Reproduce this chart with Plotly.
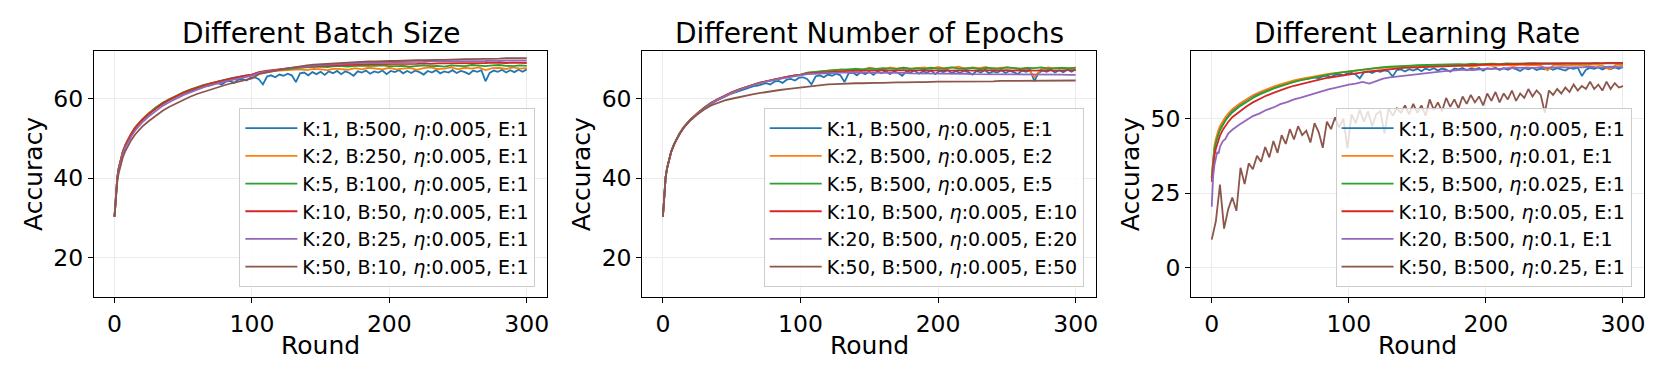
import plotly.graph_objects as go

# ---------------- data ----------------
ROUNDS = [0, 1, 2, 3, 4, 5, 6, 8, 10, 12, 15] + list(range(20, 301, 5))
ROUNDS_K1 = [0, 1, 2] + list(range(3, 301, 3))
ROUNDS_LR_K50 = list(range(0, 301, 3))

# K:1, B:500, eta:0.005, E:1 (same run appears in all three panels)
K1_BASE = [30.3, 36.6, 40.2,
           42.4, 46.6, 49.2, 51.1, 52.7, 54.0, 55.0, 55.9, 56.8, 57.6,
           58.3, 59.0, 59.5, 60.0, 60.6, 61.0, 61.4, 61.8, 62.2, 62.6,
           62.9, 63.2, 63.3, 63.7, 63.9, 63.6, 64.3, 64.5, 64.0, 64.8,
           65.0, 64.6, 65.3, 65.4, 64.9, 63.6, 65.6, 65.9, 65.4, 66.1,
           65.8, 66.3, 65.9, 64.2, 66.4, 66.6, 65.9, 66.7, 66.2, 66.8,
           66.0, 66.9, 66.4, 67.0, 66.2, 66.9, 66.5, 65.8, 66.9, 66.6,
           67.1, 66.3, 66.9, 66.6, 67.1, 66.2, 67.0, 66.7, 67.2, 66.4,
           67.0, 66.5, 67.1, 66.7, 66.1, 67.0, 66.6, 67.2, 66.4, 66.9,
           66.6, 67.2, 66.5, 67.0, 66.7, 66.2, 67.1, 66.8, 67.2, 64.4,
           66.5, 67.1, 66.8, 67.3, 66.6, 67.2, 66.7, 67.3, 66.8, 67.4]

# Panel 1: different batch size
BS_K2 = [30.3, 36.8, 40.3, 42.5, 44.2, 45.6, 46.7, 48.5, 50.0, 51.2, 52.8,
         54.8, 56.4, 57.7, 58.9, 59.9, 60.7, 61.5, 62.2, 62.8, 63.3, 63.8, 64.2, 64.6, 65.0, 65.3, 65.6, 65.9,
         66.4, 66.7, 66.9, 67.1, 67.2, 67.3, 67.4, 67.2, 67.5, 67.4, 67.2, 67.6, 67.5, 67.3, 67.7, 67.4, 67.8, 67.6, 67.4, 67.8,
         67.4, 67.6, 67.8, 67.3, 67.7, 67.9, 67.5, 67.6, 67.9, 67.4, 67.8, 67.6, 67.9, 67.2, 67.7, 67.8, 67.5, 67.9, 67.6, 67.7]
BS_K5 = [30.3, 36.6, 40.1, 42.4, 44.1, 45.5, 46.6, 48.4, 49.9, 51.1, 52.7,
         54.7, 56.3, 57.8, 59.0, 59.9, 60.8, 61.6, 62.3, 62.9, 63.5, 63.9, 64.4, 64.8, 65.2, 65.5, 65.8, 66.1,
         66.6, 66.9, 67.1, 67.3, 67.5, 67.7, 67.8, 67.9, 68.0, 68.1, 68.0, 68.2, 68.2, 68.1, 68.3, 68.3, 68.2, 68.3, 68.4, 68.2,
         68.2, 68.3, 68.1, 68.2, 68.4, 68.2, 68.3, 68.1, 68.4, 68.3, 68.2, 68.5, 68.3, 68.2, 68.4, 68.5, 68.3, 68.2, 68.4, 68.3]
BS_K10 = [30.3, 36.5, 40.0, 42.3, 44.0, 45.4, 46.5, 48.3, 49.8, 51.0, 52.6,
          54.6, 56.2, 57.6, 58.8, 59.8, 60.7, 61.5, 62.2, 62.8, 63.4, 63.9, 64.3, 64.7, 65.1, 65.5, 65.8, 66.1,
          66.7, 67.0, 67.2, 67.5, 67.7, 67.9, 68.0, 68.1, 68.2, 68.3, 68.3, 68.4, 68.5, 68.5, 68.6, 68.6, 68.7, 68.7, 68.7, 68.8,
          68.7, 68.8, 68.7, 68.8, 68.9, 68.8, 68.9, 68.9, 69.0, 68.9, 69.0, 69.0, 68.9, 69.0, 69.1, 69.0, 69.0, 69.1, 69.0, 69.0]
BS_K20 = [30.3, 36.2, 39.6, 41.8, 43.5, 44.9, 46.0, 47.8, 49.2, 50.4, 52.0,
          54.0, 55.6, 57.0, 58.2, 59.2, 60.1, 60.9, 61.6, 62.3, 62.9, 63.4, 63.9, 64.3, 64.7, 65.1, 65.5, 65.8,
          66.5, 66.8, 67.1, 67.4, 67.6, 67.8, 68.0, 68.2, 68.3, 68.5, 68.6, 68.7, 68.8, 68.9, 69.0, 69.0, 69.1, 69.1, 69.2, 69.2,
          69.2, 69.2, 69.3, 69.3, 69.3, 69.4, 69.4, 69.4, 69.4, 69.5, 69.5, 69.5, 69.5, 69.5, 69.6, 69.5, 69.6, 69.6, 69.6, 69.6]
BS_K50 = [30.3, 35.8, 39.0, 41.2, 42.8, 44.1, 45.2, 46.9, 48.3, 49.5, 51.0,
          52.9, 54.4, 55.8, 57.0, 58.0, 58.9, 59.7, 60.5, 61.2, 61.8, 62.4, 62.9, 63.4, 63.9, 64.3, 64.7, 65.1,
          66.2, 66.6, 66.9, 67.3, 67.6, 67.9, 68.2, 68.4, 68.6, 68.7, 68.9, 69.0, 69.1, 69.2, 69.3, 69.3, 69.4, 69.4, 69.5, 69.5,
          69.5, 69.6, 69.6, 69.7, 69.7, 69.8, 69.8, 69.8, 69.9, 69.9, 70.0, 70.0, 70.0, 70.1, 70.1, 70.1, 70.2, 70.2, 70.2, 70.2]

# Panel 2: different number of epochs
EP_E2 = [30.3, 36.6, 40.2, 42.5, 44.2, 45.5, 46.7, 48.5, 50.0, 51.2, 52.8,
         54.7, 56.3, 57.7, 58.9, 59.9, 60.7, 61.5, 62.2, 62.9, 63.4, 63.9, 64.4, 64.8, 65.1, 65.5, 65.8, 66.0,
         66.5, 66.7, 66.9, 67.0, 67.2, 67.4, 67.1, 67.6, 67.3, 67.8, 67.5, 67.3, 67.9, 67.6, 67.8, 67.4, 67.7, 67.9, 67.5, 68.0,
         67.6, 67.8, 68.1, 67.5, 67.9, 67.7, 68.0, 67.3, 67.8, 67.9, 67.6, 67.4, 67.8, 65.4, 67.5, 67.9, 67.6, 67.8, 67.5, 67.9]
EP_E5 = [30.3, 36.7, 40.3, 42.5, 44.2, 45.6, 46.7, 48.5, 50.0, 51.2, 52.8,
         54.8, 56.3, 57.8, 59.0, 59.9, 60.8, 61.6, 62.3, 62.9, 63.5, 64.0, 64.4, 64.8, 65.2, 65.5, 65.8, 66.1,
         66.6, 66.8, 67.0, 67.1, 67.2, 67.3, 67.4, 67.5, 67.4, 67.6, 67.5, 67.7, 67.6, 67.5, 67.8, 67.6, 67.7, 67.5, 67.8, 67.6,
         67.7, 67.9, 67.6, 67.7, 67.8, 67.5, 67.8, 67.7, 67.6, 67.9, 67.7, 67.6, 67.8, 67.7, 67.9, 67.6, 67.7, 67.8, 67.7, 67.8]
EP_E10 = [30.3, 36.6, 40.2, 42.4, 44.1, 45.5, 46.6, 48.4, 49.9, 51.1, 52.7,
          54.7, 56.3, 57.7, 58.9, 59.9, 60.8, 61.6, 62.3, 62.9, 63.5, 64.0, 64.4, 64.8, 65.2, 65.5, 65.8, 66.0,
          66.4, 66.5, 66.7, 66.8, 66.9, 66.9, 67.0, 67.0, 67.1, 67.1, 67.1, 67.2, 67.1, 67.2, 67.2, 67.1, 67.2, 67.2, 67.1, 67.2,
          67.2, 67.1, 67.2, 67.2, 67.1, 67.2, 67.2, 67.1, 67.2, 67.2, 67.1, 67.2, 67.2, 67.1, 67.2, 67.2, 67.1, 67.2, 67.2, 67.2]
EP_E20 = [30.3, 36.6, 40.2, 42.4, 44.1, 45.5, 46.6, 48.4, 49.9, 51.1, 52.7,
          54.7, 56.2, 57.6, 58.8, 59.8, 60.7, 61.5, 62.2, 62.8, 63.4, 63.9, 64.3, 64.7, 65.0, 65.3, 65.6, 65.8,
          66.2, 66.3, 66.4, 66.5, 66.5, 66.6, 66.6, 66.6, 66.6, 66.6, 66.6, 66.5, 66.5, 66.5, 66.5, 66.4, 66.4, 66.4, 66.4, 66.3,
          66.3, 66.3, 66.3, 66.3, 66.2, 66.2, 66.2, 66.2, 66.2, 66.2, 66.1, 66.1, 66.1, 66.1, 66.1, 66.1, 66.1, 66.1, 66.0, 66.0]
EP_E50 = [30.3, 36.6, 40.2, 42.4, 44.1, 45.5, 46.6, 48.4, 49.9, 51.1, 52.6,
          54.6, 56.0, 57.3, 58.3, 59.0, 59.6, 60.0, 60.4, 60.8, 61.1, 61.4, 61.7, 62.0, 62.2, 62.4, 62.6, 62.8,
          63.1, 63.3, 63.4, 63.6, 63.7, 63.8, 63.8, 63.9, 63.9, 64.0, 64.0, 64.0, 64.1, 64.1, 64.1, 64.2, 64.2, 64.2, 64.3, 64.3,
          64.3, 64.3, 64.3, 64.4, 64.4, 64.4, 64.4, 64.4, 64.5, 64.5, 64.5, 64.5, 64.5, 64.6, 64.6, 64.6, 64.6, 64.6, 64.6, 64.6]

# Panel 3: different learning rate
LR_K2 = [30.5, 37.5, 41.0, 43.2, 45.0, 46.4, 47.5, 49.2, 50.6, 51.7, 53.2,
         55.0, 56.5, 57.9, 59.0, 60.0, 60.8, 61.6, 62.3, 62.9, 63.4, 63.9, 64.3, 64.7, 65.1, 65.4, 65.7, 66.0,
         66.3, 66.5, 66.8, 67.0, 67.1, 67.3, 67.4, 67.5, 67.6, 67.4, 67.8, 67.7, 67.9, 67.6, 68.0, 67.8, 67.9, 67.5, 68.0, 68.1,
         67.8, 68.0, 68.1, 67.7, 68.2, 68.0, 68.1, 67.9, 66.3, 68.2, 68.1, 67.9, 68.2, 68.0, 68.1, 68.3, 67.9, 66.6, 68.2, 68.0]
LR_K5 = [30.0, 36.0, 39.6, 41.8, 43.6, 45.0, 46.1, 47.9, 49.4, 50.6, 52.1,
         54.0, 55.6, 57.0, 58.2, 59.2, 60.1, 60.9, 61.7, 62.4, 63.0, 63.5, 64.0, 64.5, 64.9, 65.3, 65.6, 65.9,
         66.3, 66.6, 66.9, 67.1, 67.4, 67.5, 67.7, 67.8, 67.9, 68.0, 68.1, 68.1, 68.2, 68.3, 68.3, 68.4, 68.3, 68.5, 68.4, 68.5,
         68.5, 68.4, 68.6, 68.5, 68.6, 68.5, 68.7, 68.6, 68.6, 68.7, 68.5, 68.7, 68.6, 68.7, 68.6, 68.8, 68.6, 68.7, 68.7, 68.6]
LR_K10 = [28.8, 34.0, 37.6, 39.9, 41.7, 43.1, 44.3, 46.2, 47.7, 48.9, 50.5,
          52.4, 54.0, 55.5, 56.7, 57.8, 58.7, 59.6, 60.4, 61.1, 61.7, 62.3, 62.8, 63.3, 63.8, 64.2, 64.6, 64.9,
          65.3, 65.6, 65.9, 66.2, 66.4, 66.7, 66.9, 67.1, 67.2, 67.4, 67.5, 67.6, 67.7, 67.8, 67.9, 68.0, 68.0, 68.1, 68.2, 68.2,
          68.3, 68.3, 68.4, 68.4, 68.4, 68.5, 68.5, 68.5, 68.6, 68.6, 68.6, 68.6, 68.7, 68.7, 68.7, 68.7, 68.7, 68.8, 68.8, 68.8]
LR_K20 = [20.4, 30.5, 34.5, 37.0, 38.8, 38.3, 40.5, 42.4, 43.2, 45.0, 46.3,
          48.0, 49.4, 50.9, 51.8, 53.0, 53.8, 54.9, 55.6, 56.5, 57.1, 57.8, 58.6, 59.2, 59.9, 60.4, 61.0, 61.5,
          61.8, 62.4, 61.8, 62.7, 63.5, 63.9, 64.2, 64.4, 64.8, 65.1, 65.3, 65.6, 65.8, 66.0, 66.2, 66.3, 66.5, 66.4, 66.7, 66.8,
          66.9, 66.8, 67.0, 67.1, 67.0, 67.2, 67.1, 67.3, 67.2, 67.3, 67.4, 67.2, 67.4, 67.3, 67.5, 67.4, 67.3, 67.5, 67.4, 67.4]
LR_K50 = [9.3, 15.5, 27.8, 13.0, 19.5, 23.5, 19.0, 33.5, 28.0, 35.0,
          33.0, 37.5, 35.5, 40.5, 37.0, 42.5, 38.5, 44.5, 41.5, 46.5,
          43.0, 47.5, 44.5, 46.0, 42.0, 48.5, 45.5, 40.2, 49.0, 46.5,
          50.5, 47.0, 50.0, 40.0, 51.5, 48.5, 53.0, 49.0, 52.5, 47.5,
          51.5, 52.5, 45.0, 53.5, 51.0, 53.5, 52.0, 54.5, 51.5, 55.0,
          52.0, 54.5, 51.0, 56.5, 53.0, 55.5, 52.5, 57.0, 54.0, 56.5,
          53.5, 57.5, 55.0, 58.0, 55.5, 57.5, 54.5, 58.5, 56.0, 59.0,
          55.5, 58.5, 56.5, 59.5, 56.0, 58.5, 57.0, 60.0, 57.5, 59.5,
          58.0, 52.0, 59.5, 58.0, 60.0, 58.5, 60.5, 59.0, 61.5, 59.5,
          61.0, 60.0, 62.5, 60.0, 61.5, 59.5, 62.5, 60.0, 62.0, 60.5,
          61.0]

COLORS = ["#1f77b4", "#ff7f0e", "#2ca02c", "#d62728", "#9467bd", "#8c564b"]
ETA = "<i>η</i>"

PANELS = [
    {
        "title": "Different Batch Size",
        "series": [
            ("K:1, B:500, %s:0.005, E:1" % ETA, ROUNDS_K1, K1_BASE),
            ("K:2, B:250, %s:0.005, E:1" % ETA, ROUNDS, BS_K2),
            ("K:5, B:100, %s:0.005, E:1" % ETA, ROUNDS, BS_K5),
            ("K:10, B:50, %s:0.005, E:1" % ETA, ROUNDS, BS_K10),
            ("K:20, B:25, %s:0.005, E:1" % ETA, ROUNDS, BS_K20),
            ("K:50, B:10, %s:0.005, E:1" % ETA, ROUNDS, BS_K50),
        ],
        "yrange": [10.0, 72.1], "yticks": [20, 40, 60],
    },
    {
        "title": "Different Number of Epochs",
        "series": [
            ("K:1, B:500, %s:0.005, E:1" % ETA, ROUNDS_K1, K1_BASE),
            ("K:2, B:500, %s:0.005, E:2" % ETA, ROUNDS, EP_E2),
            ("K:5, B:500, %s:0.005, E:5" % ETA, ROUNDS, EP_E5),
            ("K:10, B:500, %s:0.005, E:10" % ETA, ROUNDS, EP_E10),
            ("K:20, B:500, %s:0.005, E:20" % ETA, ROUNDS, EP_E20),
            ("K:50, B:500, %s:0.005, E:50" % ETA, ROUNDS, EP_E50),
        ],
        "yrange": [10.0, 72.1], "yticks": [20, 40, 60],
    },
    {
        "title": "Different Learning Rate",
        "series": [
            ("K:1, B:500, %s:0.005, E:1" % ETA, ROUNDS_K1, K1_BASE),
            ("K:2, B:500, %s:0.01, E:1" % ETA, ROUNDS, LR_K2),
            ("K:5, B:500, %s:0.025, E:1" % ETA, ROUNDS, LR_K5),
            ("K:10, B:500, %s:0.05, E:1" % ETA, ROUNDS, LR_K10),
            ("K:20, B:500, %s:0.1, E:1" % ETA, ROUNDS, LR_K20),
            ("K:50, B:500, %s:0.25, E:1" % ETA, ROUNDS_LR_K50, LR_K50),
        ],
        "yrange": [-10.1, 72.9], "yticks": [0, 25, 50],
    },
]

# ---------------- layout geometry (pixels) ----------------
W, H = 1661, 369
BOX_X = [(86.0, 540.0), (635.0, 1089.6), (1184.6, 1637.5)]
BOX_TOP, BOX_BOTTOM = 42.7, 289.3
LEGEND_RIGHT = [528.0, 1077.0, 1625.5]
LEGEND_BOTTOM = 279.3
FONT = "DejaVu Sans"

fig = go.Figure()
annotations = []
layout_axes = {}

for i, panel in enumerate(PANELS):
    n = i + 1
    xa = "x" if n == 1 else "x%d" % n
    ya = "y" if n == 1 else "y%d" % n
    leg = "legend" if n == 1 else "legend%d" % n
    for j, (name, xs, ys) in enumerate(panel["series"]):
        if len(xs) != len(ys):
            raise ValueError("length mismatch in %s / %s: %d vs %d" % (panel["title"], name, len(xs), len(ys)))
        fig.add_trace(go.Scatter(
            x=xs, y=ys, mode="lines", name=name,
            line=dict(color=COLORS[j], width=1.8),
            xaxis=xa, yaxis=ya, legend=leg, showlegend=True,
        ))

    x0, x1 = BOX_X[i]
    axis_common = dict(
        showline=True, mirror=True, linecolor="black", linewidth=1,
        ticks="outside", ticklen=5, tickwidth=1, tickcolor="black",
        showgrid=True, gridcolor="#ebebeb", gridwidth=1, zeroline=False,
        tickfont=dict(family=FONT, size=23.5, color="black"),
    )
    layout_axes["xaxis" if n == 1 else "xaxis%d" % n] = dict(
        axis_common, domain=[x0 / W, x1 / W], anchor=ya,
        range=[-15, 315], tickvals=[0, 100, 200, 300],
    )
    layout_axes["yaxis" if n == 1 else "yaxis%d" % n] = dict(
        axis_common, domain=[1 - BOX_BOTTOM / H, 1 - BOX_TOP / H], anchor=xa,
        range=panel["yrange"], tickvals=panel["yticks"],
    )
    layout_axes[leg] = dict(
        x=LEGEND_RIGHT[i] / W, y=1 - LEGEND_BOTTOM / H, xanchor="right", yanchor="bottom",
        xref="paper", yref="paper",
        bgcolor="rgba(255,255,255,0.8)", bordercolor="#cccccc", borderwidth=1,
        font=dict(family=FONT, size=19, color="black"),
        tracegroupgap=0, itemwidth=52,
    )
    cx = (x0 + x1) / 2
    annotations.append(dict(text=panel["title"], x=cx / W, y=1 - 26 / H, xref="paper", yref="paper",
                            xanchor="center", yanchor="middle", showarrow=False,
                            font=dict(family=FONT, size=28, color="black")))
    annotations.append(dict(text="Round", x=cx / W, y=1 - 337 / H, xref="paper", yref="paper",
                            xanchor="center", yanchor="middle", showarrow=False,
                            font=dict(family=FONT, size=25, color="black")))
    annotations.append(dict(text="Accuracy", x=(x0 - 61) / W, y=1 - 166 / H, xref="paper", yref="paper",
                            xanchor="center", yanchor="middle", showarrow=False, textangle=-90,
                            font=dict(family=FONT, size=25, color="black")))

fig.update_layout(
    width=W, height=H,
    margin=dict(l=0, r=0, t=0, b=0),
    paper_bgcolor="white", plot_bgcolor="white",
    font=dict(family=FONT, color="black"),
    annotations=annotations,
    **layout_axes,
)

fig.write_html("out.html")
